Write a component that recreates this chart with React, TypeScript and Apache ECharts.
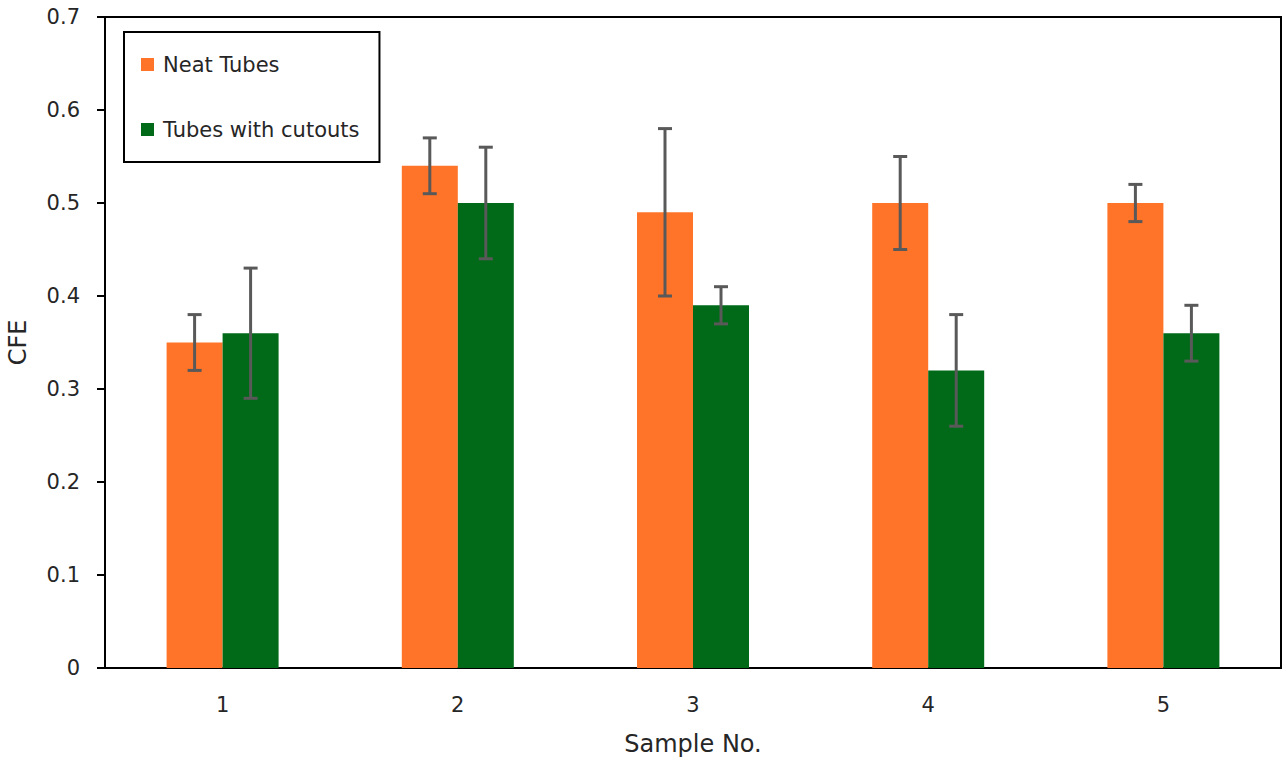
import React, { useEffect, useRef } from "react";
import * as echarts from "echarts";

const categories = ["1", "2", "3", "4", "5"];
const neatValues = [0.35, 0.54, 0.49, 0.5, 0.5];
const neatLow = [0.32, 0.51, 0.4, 0.45, 0.48];
const neatHigh = [0.38, 0.57, 0.58, 0.55, 0.52];
const cutValues = [0.36, 0.5, 0.39, 0.32, 0.36];
const cutLow = [0.29, 0.44, 0.37, 0.26, 0.33];
const cutHigh = [0.43, 0.56, 0.41, 0.38, 0.39];

const ORANGE = "#FF7429";
const GREEN = "#006A18";
const ERR = "#595959";
const TEXT = "#262626";
const BAR_W = 56;
const FONT = "'DejaVu Sans', sans-serif";

function errorSeries(name: string, low: number[], high: number[], shift: number) {
  return {
    type: "custom",
    name: name + " err",
    z: 10,
    silent: true,
    data: low.map((l, i) => [i, l, high[i]]),
    encode: { x: 0, y: [1, 2] },
    renderItem: (params: any, api: any) => {
      const idx = api.value(0);
      const lo = api.coord([idx, api.value(1)]);
      const hi = api.coord([idx, api.value(2)]);
      const x = lo[0] + shift;
      const cap = 7;
      const style = { stroke: ERR, lineWidth: 3 };
      return {
        type: "group",
        children: [
          { type: "line", shape: { x1: x, y1: lo[1], x2: x, y2: hi[1] }, style },
          { type: "line", shape: { x1: x - cap, y1: lo[1], x2: x + cap, y2: lo[1] }, style },
          { type: "line", shape: { x1: x - cap, y1: hi[1], x2: x + cap, y2: hi[1] }, style },
        ],
      };
    },
  };
}

export default function App() {
  const ref = useRef<HTMLDivElement>(null);
  useEffect(() => {
    document.body.style.margin = "0";
    const chart = echarts.init(ref.current!, null, { renderer: "svg" });
    chart.setOption({
      animation: false,
      backgroundColor: "#ffffff",
      textStyle: { fontFamily: FONT },
      grid: {
        left: 105,
        right: 7,
        top: 17,
        bottom: 100,
        show: true,
        borderColor: "#000",
        borderWidth: 2,
        containLabel: false,
        outerBoundsMode: "none",
      },
      legend: {
        orient: "vertical",
        left: 124,
        top: 32,
        padding: [22, 20, 22, 17],
        itemGap: 44,
        itemWidth: 13,
        itemHeight: 13,
        borderColor: "#000",
        borderWidth: 2,
        data: [
          { name: "Neat Tubes", icon: "rect" },
          { name: "Tubes with cutouts", icon: "rect" },
        ],
        textStyle: { fontSize: 21, color: TEXT, fontFamily: FONT, padding: [0, 0, 0, 4] },
      },
      xAxis: {
        type: "category",
        data: categories,
        name: "Sample No.",
        nameLocation: "middle",
        nameGap: 64,
        nameTextStyle: { fontSize: 24, color: TEXT, fontFamily: FONT },
        axisLine: { lineStyle: { color: "#000", width: 2 } },
        axisTick: { show: false },
        axisLabel: { fontSize: 21, color: TEXT, margin: 26, fontFamily: FONT },
      },
      yAxis: {
        type: "value",
        min: 0,
        max: 0.7,
        interval: 0.1,
        name: "CFE",
        nameLocation: "middle",
        nameGap: 75,
        nameTextStyle: { fontSize: 24, color: TEXT, fontFamily: FONT },
        axisLine: { show: true, lineStyle: { color: "#000", width: 2 } },
        axisTick: { show: true, length: 8, lineStyle: { color: "#000", width: 2 } },
        splitLine: { show: false },
        axisLabel: { fontSize: 21, color: TEXT, margin: 25, fontFamily: FONT },
      },
      series: [
        {
          type: "bar",
          name: "Neat Tubes",
          data: neatValues,
          barWidth: BAR_W,
          barGap: "0%",
          itemStyle: { color: ORANGE },
        },
        {
          type: "bar",
          name: "Tubes with cutouts",
          data: cutValues,
          barWidth: BAR_W,
          barGap: "0%",
          itemStyle: { color: GREEN },
        },
        errorSeries("Neat Tubes", neatLow, neatHigh, -BAR_W / 2),
        errorSeries("Tubes with cutouts", cutLow, cutHigh, BAR_W / 2),
      ],
    });
    return () => chart.dispose();
  }, []);
  return <div ref={ref} style={{ width: 1288, height: 768 }} />;
}
